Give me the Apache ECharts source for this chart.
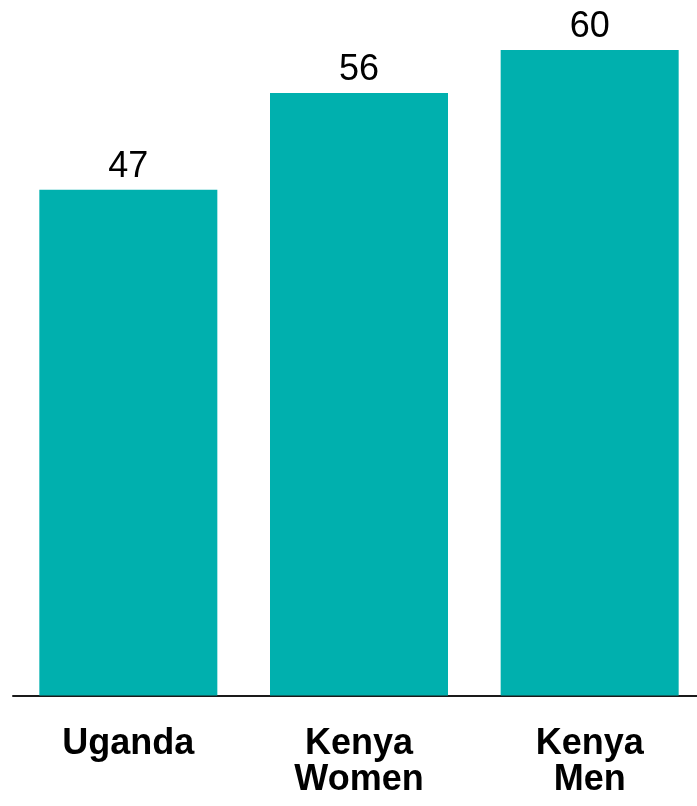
<!DOCTYPE html>
<html><head><meta charset="utf-8">
<script src="https://cdn.jsdelivr.net/npm/echarts@6/dist/echarts.min.js"></script>
<style>html,body{margin:0;padding:0;background:#fff;overflow:hidden}#c{width:697px;height:806px}</style>
</head><body><div id="c"></div>
<script>
const categories = ['Uganda', 'Kenya\nWomen', 'Kenya\nMen'];
const values = [47, 56, 60];
const chart = echarts.init(document.getElementById('c'));
chart.setOption({
  animation: false,
  grid: { left: 13, right: -8, top: 50, bottom: 110.5, containLabel: false, outerBoundsMode: 'none' },
  xAxis: {
    type: 'category', data: categories,
    axisLine: { lineStyle: { color: '#1a1a1a', width: 2 } },
    axisTick: { show: false },
    axisLabel: { fontFamily: 'Liberation Sans, Arial', fontWeight: 'bold', fontSize: 36, color: '#000', lineHeight: 36, margin: 31, interval: 0, verticalAlign: 'top' }
  },
  yAxis: { type: 'value', min: 0, max: 60, show: false, splitLine: { show: false } },
  series: [{
    type: 'bar', data: values, barWidth: 178,
    itemStyle: { color: '#00B0AE' },
    label: { show: true, position: 'top', distance: 5, fontFamily: 'Liberation Sans, Arial', fontSize: 36, color: '#000' }
  }]
});
</script></body></html>
